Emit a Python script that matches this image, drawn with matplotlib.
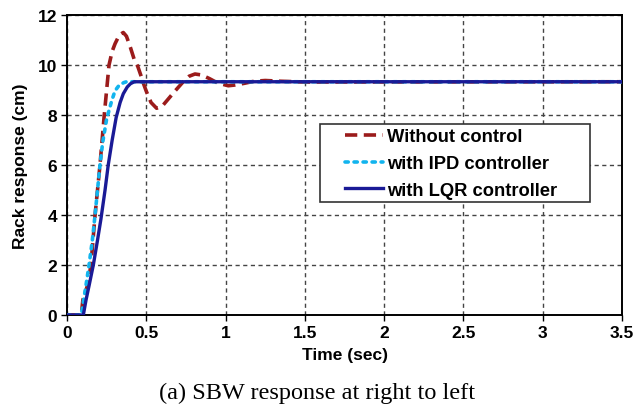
import matplotlib.pyplot as plt
from matplotlib.patches import Rectangle
from matplotlib.ticker import FormatStrFormatter, FuncFormatter

# rack displacement (cm) vs time (sec), right-to-left manoeuvre
t_open = [0, 0.09, 0.10, 0.11, 0.13, 0.151, 0.177, 0.208, 0.235, 0.265, 0.285,
          0.303, 0.33, 0.355, 0.375, 0.40, 0.425, 0.446, 0.465, 0.48, 0.50,
          0.53, 0.565, 0.60, 0.64, 0.68, 0.733, 0.77, 0.807, 0.85, 0.90, 0.95,
          1.017, 1.06, 1.12, 1.18, 1.25, 1.35, 1.5, 3.5]
y_open = [0, 0, 0.6, 0.8, 1.2, 2.0, 4.0, 6.0, 8.0, 10.0, 10.55,
          10.85, 11.2, 11.3, 11.15, 10.7, 10.2, 9.95, 9.6, 9.3, 8.95,
          8.5, 8.27, 8.35, 8.65, 8.95, 9.33, 9.55, 9.64, 9.6, 9.45, 9.28,
          9.17, 9.2, 9.27, 9.35, 9.38, 9.35, 9.32, 9.33]

t_ipd = [0, 0.09, 0.10, 0.12, 0.139, 0.16, 0.177, 0.208, 0.225, 0.25, 0.282,
         0.303, 0.33, 0.36, 0.376, 3.5]
y_ipd = [0, 0, 0.4, 1.2, 2.0, 3.0, 4.0, 6.0, 6.9, 7.84, 8.57,
         8.97, 9.2, 9.3, 9.33, 9.33]

t_lqr = [0, 0.103, 0.12, 0.14, 0.166, 0.19, 0.214, 0.24, 0.26, 0.285, 0.31,
         0.335, 0.355, 0.38, 0.40, 0.424, 3.5]
y_lqr = [0, 0, 0.6, 1.2, 2.0, 2.9, 3.84, 5.0, 6.0, 7.0, 7.9,
         8.5, 8.85, 9.12, 9.25, 9.33, 9.33]

x_ticks = [0, 0.5, 1, 1.5, 2, 2.5, 3, 3.5]
y_ticks = [0, 2, 4, 6, 8, 10, 12]

plt.rcParams['font.family'] = ['Liberation Sans', 'DejaVu Sans']

W, H = 635, 414
fig = plt.figure(figsize=(W / 100, H / 100), dpi=100)
ax = fig.add_axes([67 / W, 1 - 316 / H, 555 / W, 300 / H])

ax.plot(t_open, y_open, color='#9b1b1b', lw=2.6, ls=(0, (3.4, 1.8)),
        label='Without control', zorder=3)
ax.plot(t_ipd, y_ipd, color='#12b4ee', lw=2.6, ls=(0, (0.9, 1.6)),
        dash_capstyle='round', label='with IPD controller', zorder=4)
ax.plot(t_lqr, y_lqr, color='#1a1a96', lw=2.4, ls='-',
        label='with LQR controller', zorder=5)

ax.set_xlim(0, 3.5)
ax.set_ylim(0, 12)
ax.set_xticks(x_ticks)
ax.set_yticks(y_ticks)
ax.xaxis.set_major_formatter(FuncFormatter(lambda v, p: '%g' % v))
ax.yaxis.set_major_formatter(FormatStrFormatter('%d'))
ax.grid(True, color='#444444', lw=1.0, ls=(0, (3, 2.5)))
ax.tick_params(direction='out', length=4, width=1, labelsize=12.5, pad=3)
for lbl in ax.get_xticklabels() + ax.get_yticklabels():
    lbl.set_fontweight('bold')
for sp in ax.spines.values():
    sp.set_color('black')
    sp.set_linewidth(1.4)

ax.set_xlabel('Time (sec)', fontsize=12.5, fontweight='bold', labelpad=5)
ax.set_ylabel('Rack response (cm)', fontsize=12.5, fontweight='bold', labelpad=7)

# legend box is wider than its entries, so the frame is drawn separately
box = Rectangle((320 / W, 1 - 203 / H), 270 / W, 78 / H, transform=fig.transFigure,
                facecolor='white', edgecolor='#333333', lw=1.2, zorder=6)
ax.add_patch(box)
box.set_clip_on(False)
leg = ax.legend(loc='upper left', bbox_to_anchor=(339 / W, 1 - 124 / H),
                bbox_transform=fig.transFigure, frameon=False,
                handlelength=2.1, handletextpad=0.2,
                labelspacing=0.52, borderpad=0.3, borderaxespad=0,
                prop={'size': 13.2, 'weight': 'bold'})
leg.set_zorder(7)

fig.text(0.5, 1 - 393 / H, '(a) SBW response at right to left',
         ha='center', va='center', fontsize=17.5,
         family=['Liberation Serif', 'DejaVu Serif'])

fig.savefig('out.png', dpi=100)
